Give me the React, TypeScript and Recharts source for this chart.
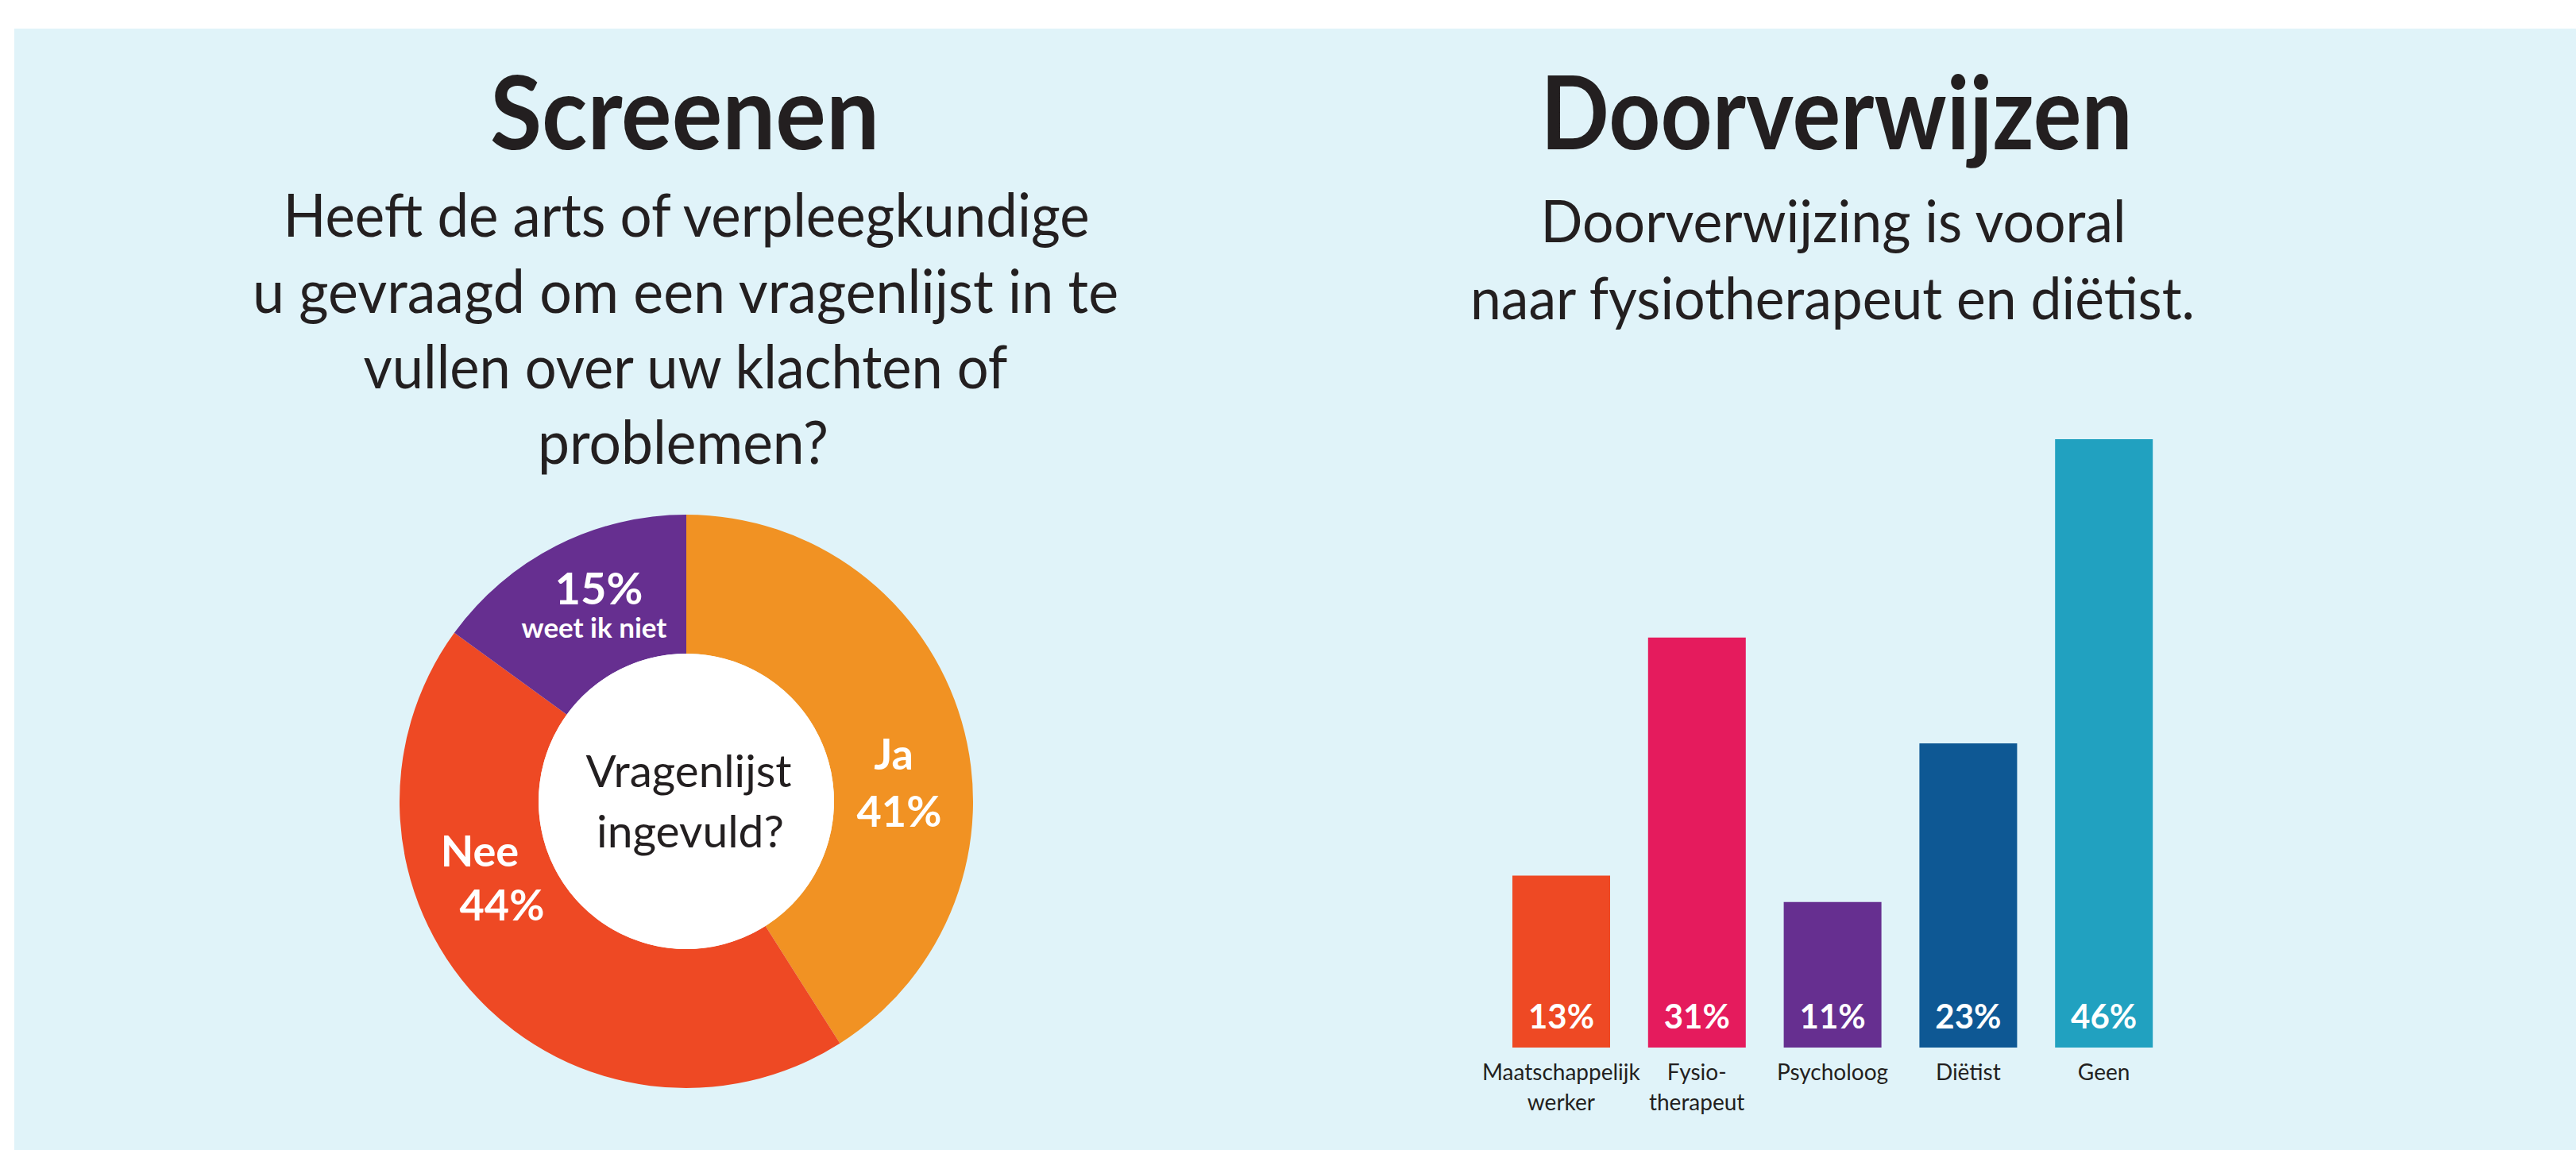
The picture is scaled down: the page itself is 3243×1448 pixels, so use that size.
import React from 'react';
import { PieChart, Pie, Cell, BarChart, Bar, XAxis, YAxis, LabelList } from 'recharts';

// Screenen (donut)
const pieNames = ['Ja', 'Nee', 'weet ik niet'];
const pieValues = [41, 44, 15];
const pieColors = ['#F19223', '#EE4924', '#662F90'];

// Doorverwijzen (bars)
const barCategories = ['Maatschappelijk\nwerker', 'Fysio-\ntherapeut', 'Psycholoog', 'Diëtist', 'Geen'];
const barValues = [13, 31, 11, 23, 46];
const barColors = ['#EE4924', '#E51B5D', '#662F90', '#0E5894', '#21A1C0'];

const pieData = pieNames.map((name, i) => ({ name, value: pieValues[i] }));
const barData = barCategories.map((name, i) => ({ name, value: barValues[i] }));

const FONT = "Lato, 'Open Sans', sans-serif";
const INK = '#231F20';
const BG = '#E0F3F9';

const T = ({ x, y, w, size, bold, fill = INK, children }: any) => (
    <text
        x={x}
        y={y}
        textAnchor="middle"
        fontFamily={FONT}
        fontSize={size}
        fontWeight={bold ? 700 : 400}
        fill={fill}
        textLength={w}
        lengthAdjust="spacingAndGlyphs"
    >
        {children}
    </text>
);

// label lines per slice, offsets from the donut centre
const renderPieLabel = (props: any) => {
    const { cx, cy, index, name, value } = props;
    const white = { fill: '#fff', fontFamily: FONT, fontWeight: 700, textAnchor: 'middle' as const };
    if (index === 0) {
        return (
            <g>
                <text {...white} x={cx + 261} y={cy - 40} fontSize={54}>{name}</text>
                <text {...white} x={cx + 268} y={cy + 32} fontSize={54}>{value}%</text>
            </g>
        );
    }
    if (index === 1) {
        return (
            <g>
                <text {...white} x={cx - 260} y={cy + 82} fontSize={54}>{name}</text>
                <text {...white} x={cx - 232} y={cy + 150} fontSize={54}>{value}%</text>
            </g>
        );
    }
    return (
        <g>
            <text {...white} x={cx - 110} y={cy - 248} fontSize={56}>{value}%</text>
            <text {...white} x={cx - 116} y={cy - 206} fontSize={35}>{name}</text>
        </g>
    );
};

const BarValueLabel = (props: any) => {
    const { x, y, width, height, value } = props;
    return (
        <text
            x={x + width / 2}
            y={y + height - 24}
            textAnchor="middle"
            fontFamily={FONT}
            fontWeight={700}
            fontSize={42}
            fill="#fff"
        >
            {value}%
        </text>
    );
};

const CategoryTick = (props: any) => {
    const { x, y, payload } = props;
    const lines = String(payload.value).split('\n');
    return (
        <g>
            {lines.map((line, i) => (
                <text
                    key={i}
                    x={x}
                    y={y + 41 + i * 38}
                    textAnchor="middle"
                    fontFamily={FONT}
                    fontSize={28}
                    fill={INK}
                >
                    {line}
                </text>
            ))}
        </g>
    );
};

const App = () => {
    return (
        <div style={{ position: 'absolute', left: 0, top: 0, width: 3243, height: 1448, background: '#fff', overflow: 'hidden' }}>
            <div style={{ position: 'absolute', left: 18, top: 36, width: 3225, height: 1412, background: BG }} />

            <div style={{ position: 'absolute', left: 459, top: 604 }}>
                <PieChart width={800} height={800}>
                    <Pie
                        data={pieData}
                        dataKey="value"
                        nameKey="name"
                        cx={400}
                        cy={400}
                        innerRadius={186}
                        outerRadius={361}
                        startAngle={90}
                        endAngle={-270}
                        stroke="none"
                        label={renderPieLabel}
                        labelLine={false}
                        isAnimationActive={false}
                    >
                        {pieData.map((d, i) => (
                            <Cell key={d.name} fill={pieColors[i]} />
                        ))}
                    </Pie>
                    <Pie
                        data={[{ name: 'hole', value: 1 }]}
                        dataKey="value"
                        cx={400}
                        cy={400}
                        innerRadius={0}
                        outerRadius={186}
                        fill="#fff"
                        stroke="none"
                        isAnimationActive={false}
                    />
                </PieChart>
            </div>

            <div style={{ position: 'absolute', left: 1860, top: 500 }}>
                <BarChart width={900} height={950} data={barData} margin={{ top: 53, right: 26, bottom: 31, left: 20 }}>
                    <XAxis
                        dataKey="name"
                        axisLine={false}
                        tickLine={false}
                        tickSize={0}
                        tickMargin={0}
                        height={100}
                        interval={0}
                        tick={<CategoryTick />}
                    />
                    <YAxis hide domain={[0, 'dataMax']} />
                    <Bar dataKey="value" barSize={123} isAnimationActive={false}>
                        {barData.map((d, i) => (
                            <Cell key={d.name} fill={barColors[i]} />
                        ))}
                        <LabelList dataKey="value" content={<BarValueLabel />} />
                    </Bar>
                </BarChart>
            </div>

            <svg width={3243} height={1448} style={{ position: 'absolute', left: 0, top: 0, pointerEvents: 'none' }}>
                <T x={862} y={188} w={490} size={128} bold>Screenen</T>
                <T x={864} y={298} w={1015} size={76}>Heeft de arts of verpleegkundige</T>
                <T x={863} y={394} w={1090} size={76}>u gevraagd om een vragenlijst in te</T>
                <T x={863} y={489} w={811} size={76}>vullen over uw klachten of</T>
                <T x={860} y={584} w={366} size={76}>problemen?</T>

                <T x={867} y={991} w={259} size={57}>Vragenlijst</T>
                <T x={869} y={1067} w={236} size={57}>ingevuld?</T>

                <T x={2312} y={188} w={745} size={128} bold>Doorverwijzen</T>
                <T x={2308} y={305} w={737} size={74}>Doorverwijzing is vooral</T>
                <T x={2307} y={402} w={912} size={74}>naar fysiotherapeut en diëtist.</T>
            </svg>
        </div>
    );
};

export default App;
